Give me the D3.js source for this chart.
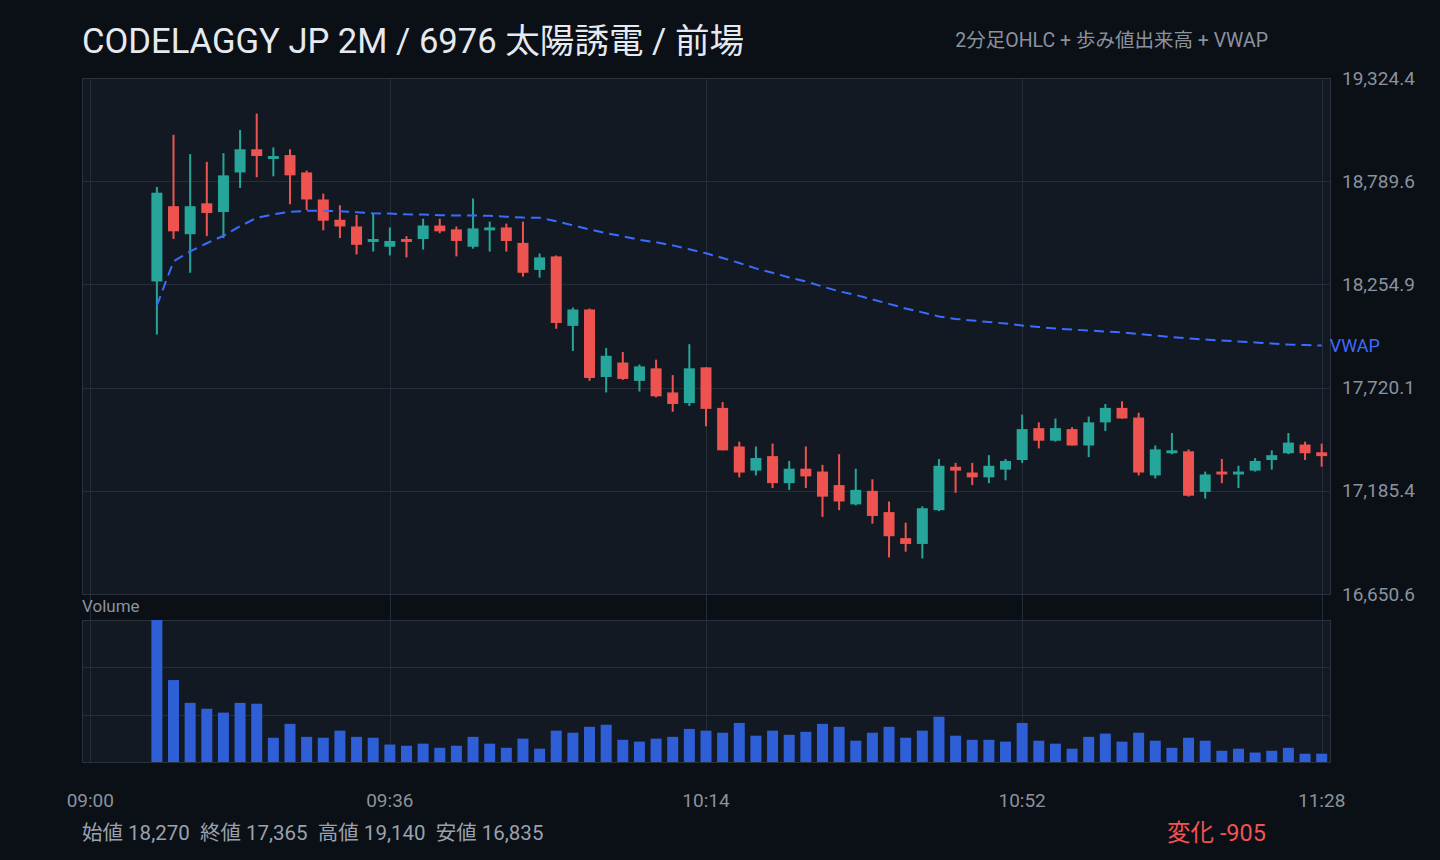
<!DOCTYPE html>
<html>
<head>
<meta charset="utf-8">
<script src="https://cdn.jsdelivr.net/npm/d3@7"></script>
<style>
  body { margin: 0; background: #0b0f16; }
  svg { display: block; font-family: Roboto, "Noto Sans CJK JP", sans-serif; }
</style>
</head>
<body>
<svg id="chart" width="1440" height="860"></svg>
<script>
// 2-minute bars, morning session
var times = ["09:08","09:10","09:12","09:14","09:16","09:18","09:20","09:22","09:24","09:26",
  "09:28","09:30","09:32","09:34","09:36","09:38","09:40","09:42","09:44","09:46",
  "09:48","09:50","09:52","09:54","09:56","09:58","10:00","10:02","10:04","10:06",
  "10:08","10:10","10:12","10:14","10:16","10:18","10:20","10:22","10:24","10:26",
  "10:28","10:30","10:32","10:34","10:36","10:38","10:40","10:42","10:44","10:46",
  "10:48","10:50","10:52","10:54","10:56","10:58","11:00","11:02","11:04","11:06",
  "11:08","11:10","11:12","11:14","11:16","11:18","11:20","11:22","11:24","11:26","11:28"];

var opens = [18270,18660,18515,18675,18630,18835,18955,18905,18925,18835,
  18695,18590,18555,18475,18450,18490,18490,18560,18540,18450,
  18535,18550,18470,18330,18400,18040,18125,17775,17850,17755,
  17820,17695,17640,17825,17615,17415,17290,17365,17225,17300,
  17285,17215,17115,17185,17075,16940,16910,17085,17310,17280,
  17255,17295,17345,17510,17445,17505,17420,17540,17615,17565,
  17265,17380,17390,17180,17285,17270,17290,17345,17380,17425,17385];

var highs = [18760,19030,18930,18890,18935,19055,19140,18965,18955,18845,
  18725,18665,18615,18625,18550,18505,18595,18595,18555,18700,
  18580,18570,18580,18415,18405,18135,18130,17925,17905,17840,
  17865,17785,17945,17825,17645,17440,17415,17430,17340,17415,
  17320,17375,17300,17245,17130,17020,17105,17350,17330,17330,
  17370,17350,17580,17540,17560,17515,17570,17635,17650,17590,
  17420,17485,17400,17285,17350,17315,17355,17395,17485,17440,17430];

var lows = [17995,18490,18315,18505,18495,18755,18810,18815,18670,18640,
  18535,18495,18410,18425,18405,18395,18435,18520,18400,18440,
  18425,18425,18295,18290,18025,17910,17755,17695,17760,17700,
  17670,17595,17625,17520,17395,17255,17265,17200,17190,17200,
  17050,17085,17110,17015,16840,16870,16835,17080,17175,17215,
  17225,17240,17330,17405,17440,17420,17360,17495,17560,17265,
  17250,17375,17155,17145,17225,17200,17285,17295,17375,17345,17310];

var closes = [18730,18530,18660,18625,18820,18955,18920,18920,18820,18695,
  18585,18555,18460,18490,18480,18475,18560,18530,18480,18545,
  18550,18480,18315,18395,18055,18125,17770,17885,17765,17830,
  17675,17635,17820,17610,17395,17280,17355,17225,17300,17260,
  17155,17130,17190,17055,16950,16910,17095,17315,17290,17255,
  17315,17340,17505,17445,17510,17420,17540,17615,17560,17280,
  17400,17395,17160,17270,17270,17285,17340,17370,17435,17380,17365];

// tick-by-tick volume per bar (shares)
var volumes = [48000,27700,20000,18000,16700,20000,19700,8200,12900,8500,
  8200,10600,8500,8200,5900,5500,6200,4800,5500,8500,
  6200,4800,7900,4500,10600,9900,11900,12600,7500,6900,
  7900,8500,11200,10600,9900,13200,8900,10600,9200,10200,
  12900,11900,7200,9900,11900,8200,10600,15300,8900,7500,
  7500,6900,13200,7200,6200,4500,8500,9600,6900,9900,
  7200,4800,8200,7200,3800,4500,3200,3800,4800,2800,2800];

var vwap = [18146,18374,18426,18468,18507,18556,18600,18618,18631,18636,
  18637,18634,18629,18623,18622,18618,18617,18613,18612,18612,
  18610,18606,18601,18600,18582,18561,18540,18520,18504,18486,
  18473,18457,18437,18416,18392,18366,18338,18315,18291,18270,
  18244,18219,18200,18177,18154,18130,18110,18089,18076,18068,
  18060,18052,18042,18034,18026,18021,18016,18011,18006,17998,
  17990,17982,17975,17969,17964,17959,17954,17949,17943,17941,17938];

var priceTicks = [19324.4, 18789.6, 18254.9, 17720.1, 17185.4, 16650.6];
var timeTicks = ["09:00", "09:36", "10:14", "10:52", "11:28"];
var summaryLabels = ["始値", "終値", "高値", "安値"];
var summaryValues = [18270, 17365, 19140, 16835];
var change = -905;

var parse = d3.timeParse("%H:%M");
var fmtPrice = d3.format(",.1f"), fmtInt = d3.format(",");

var main = { left: 82, right: 1330, top: 78, bottom: 594 };
var vol = { top: 620, bottom: 762 };

var x = d3.scaleTime().domain([parse("08:59"), parse("11:29")]).range([main.left, main.right]);
var y = d3.scaleLinear().domain([16650.6, 19324.4]).range([main.bottom, main.top]);
var yv = d3.scaleLinear().domain([0, d3.max(volumes)]).range([vol.bottom, vol.top]);

var up = "#26a69a", down = "#ef5350", grid = "#252d38", axisText = "#8a929e";

var bars = times.map(function (t, i) {
  return { t: parse(t), o: opens[i], h: highs[i], l: lows[i], c: closes[i], v: volumes[i], w: vwap[i] };
});

var svg = d3.select("#chart");

svg.append("rect").attr("width", 1440).attr("height", 860).attr("fill", "#0b0f16");

// panels
svg.append("rect")
  .attr("x", main.left).attr("y", main.top)
  .attr("width", main.right - main.left).attr("height", main.bottom - main.top)
  .attr("fill", "#121922");
svg.append("rect")
  .attr("x", main.left).attr("y", vol.top)
  .attr("width", main.right - main.left).attr("height", vol.bottom - vol.top)
  .attr("fill", "#121922");

// horizontal grid
svg.append("g").selectAll("line").data(priceTicks).enter().append("line")
  .attr("x1", main.left).attr("x2", main.right)
  .attr("y1", function (d) { return Math.round(y(d)) + 0.5; })
  .attr("y2", function (d) { return Math.round(y(d)) + 0.5; })
  .attr("stroke", grid);

var vmax = d3.max(volumes);
svg.append("g").selectAll("line").data([vmax / 3, vmax * 2 / 3]).enter().append("line")
  .attr("x1", main.left).attr("x2", main.right)
  .attr("y1", function (d) { return Math.round(yv(d)) + 0.5; })
  .attr("y2", function (d) { return Math.round(yv(d)) + 0.5; })
  .attr("stroke", grid);

// vertical grid, runs through both panels
svg.append("g").selectAll("line").data(timeTicks).enter().append("line")
  .attr("x1", function (d) { return Math.round(x(parse(d))) + 0.5; })
  .attr("x2", function (d) { return Math.round(x(parse(d))) + 0.5; })
  .attr("y1", main.top).attr("y2", vol.bottom)
  .attr("stroke", grid);

// panel borders
svg.append("rect")
  .attr("x", main.left + 0.5).attr("y", main.top + 0.5)
  .attr("width", main.right - main.left).attr("height", main.bottom - main.top)
  .attr("fill", "none").attr("stroke", "#2a323d");
svg.append("rect")
  .attr("x", main.left + 0.5).attr("y", vol.top + 0.5)
  .attr("width", main.right - main.left).attr("height", vol.bottom - vol.top)
  .attr("fill", "none").attr("stroke", "#2a323d");

// volume bars
var bw = 11;
svg.append("g").selectAll("rect").data(bars).enter().append("rect")
  .attr("x", function (d) { return x(d.t) - bw / 2; })
  .attr("y", function (d) { return yv(d.v); })
  .attr("width", bw)
  .attr("height", function (d) { return vol.bottom - yv(d.v); })
  .attr("fill", "#2f5fd6");

// candles
var candle = svg.append("g").selectAll("g").data(bars).enter().append("g");
candle.append("line")
  .attr("x1", function (d) { return x(d.t); })
  .attr("x2", function (d) { return x(d.t); })
  .attr("y1", function (d) { return y(d.h); })
  .attr("y2", function (d) { return y(d.l); })
  .attr("stroke", function (d) { return d.c >= d.o ? up : down; })
  .attr("stroke-width", 2);
candle.append("rect")
  .attr("x", function (d) { return x(d.t) - 5.5; })
  .attr("y", function (d) { return y(Math.max(d.o, d.c)); })
  .attr("width", 11)
  .attr("height", function (d) { return Math.max(2, Math.abs(y(d.o) - y(d.c))); })
  .attr("fill", function (d) { return d.c >= d.o ? up : down; });

// VWAP
var line = d3.line().x(function (d) { return x(d.t); }).y(function (d) { return y(d.w); });
svg.append("path").datum(bars)
  .attr("d", line)
  .attr("fill", "none")
  .attr("stroke", "#3b6cff")
  .attr("stroke-width", 2)
  .attr("stroke-dasharray", "10,6");

var last = bars[bars.length - 1];
svg.append("text")
  .attr("x", x(last.t) + 8).attr("y", y(last.w))
  .attr("dy", "0.35em")
  .attr("fill", "#3b6cff").attr("font-size", 18)
  .text("VWAP");

// price axis labels
svg.append("g").selectAll("text").data(priceTicks).enter().append("text")
  .attr("x", 1342).attr("y", function (d) { return y(d); })
  .attr("dy", "0.35em")
  .attr("fill", axisText).attr("font-size", 19)
  .text(function (d) { return fmtPrice(d); });

// time axis labels
svg.append("g").selectAll("text").data(timeTicks).enter().append("text")
  .attr("x", function (d) { return x(parse(d)); }).attr("y", 800)
  .attr("dy", "0.35em").attr("text-anchor", "middle")
  .attr("fill", axisText).attr("font-size", 19)
  .text(function (d) { return d; });

svg.append("text")
  .attr("x", main.left).attr("y", 606).attr("dy", "0.35em")
  .attr("fill", axisText).attr("font-size", 17)
  .text("Volume");

// title
svg.append("text")
  .attr("x", main.left).attr("y", 53)
  .attr("fill", "#e6eaf0").attr("font-size", 34.6)
  .text("CODELAGGY JP 2M / 6976 太陽誘電 / 前場");
svg.append("text")
  .attr("x", 1268).attr("y", 47).attr("text-anchor", "end")
  .attr("fill", axisText).attr("font-size", 19.5)
  .text("2分足OHLC + 歩み値出来高 + VWAP");

// summary line
svg.append("text")
  .attr("x", main.left).attr("y", 833).attr("dy", "0.35em")
  .style("white-space", "pre")
  .attr("fill", "#9aa2ad").attr("font-size", 20.5)
  .text(summaryLabels.map(function (l, i) { return l + " " + fmtInt(summaryValues[i]); }).join("  "));
svg.append("text")
  .attr("x", 1266).attr("y", 833).attr("dy", "0.35em").attr("text-anchor", "end")
  .attr("fill", "#f05454").attr("font-size", 23.5)
  .text("変化 " + change);
</script>
</body>
</html>
